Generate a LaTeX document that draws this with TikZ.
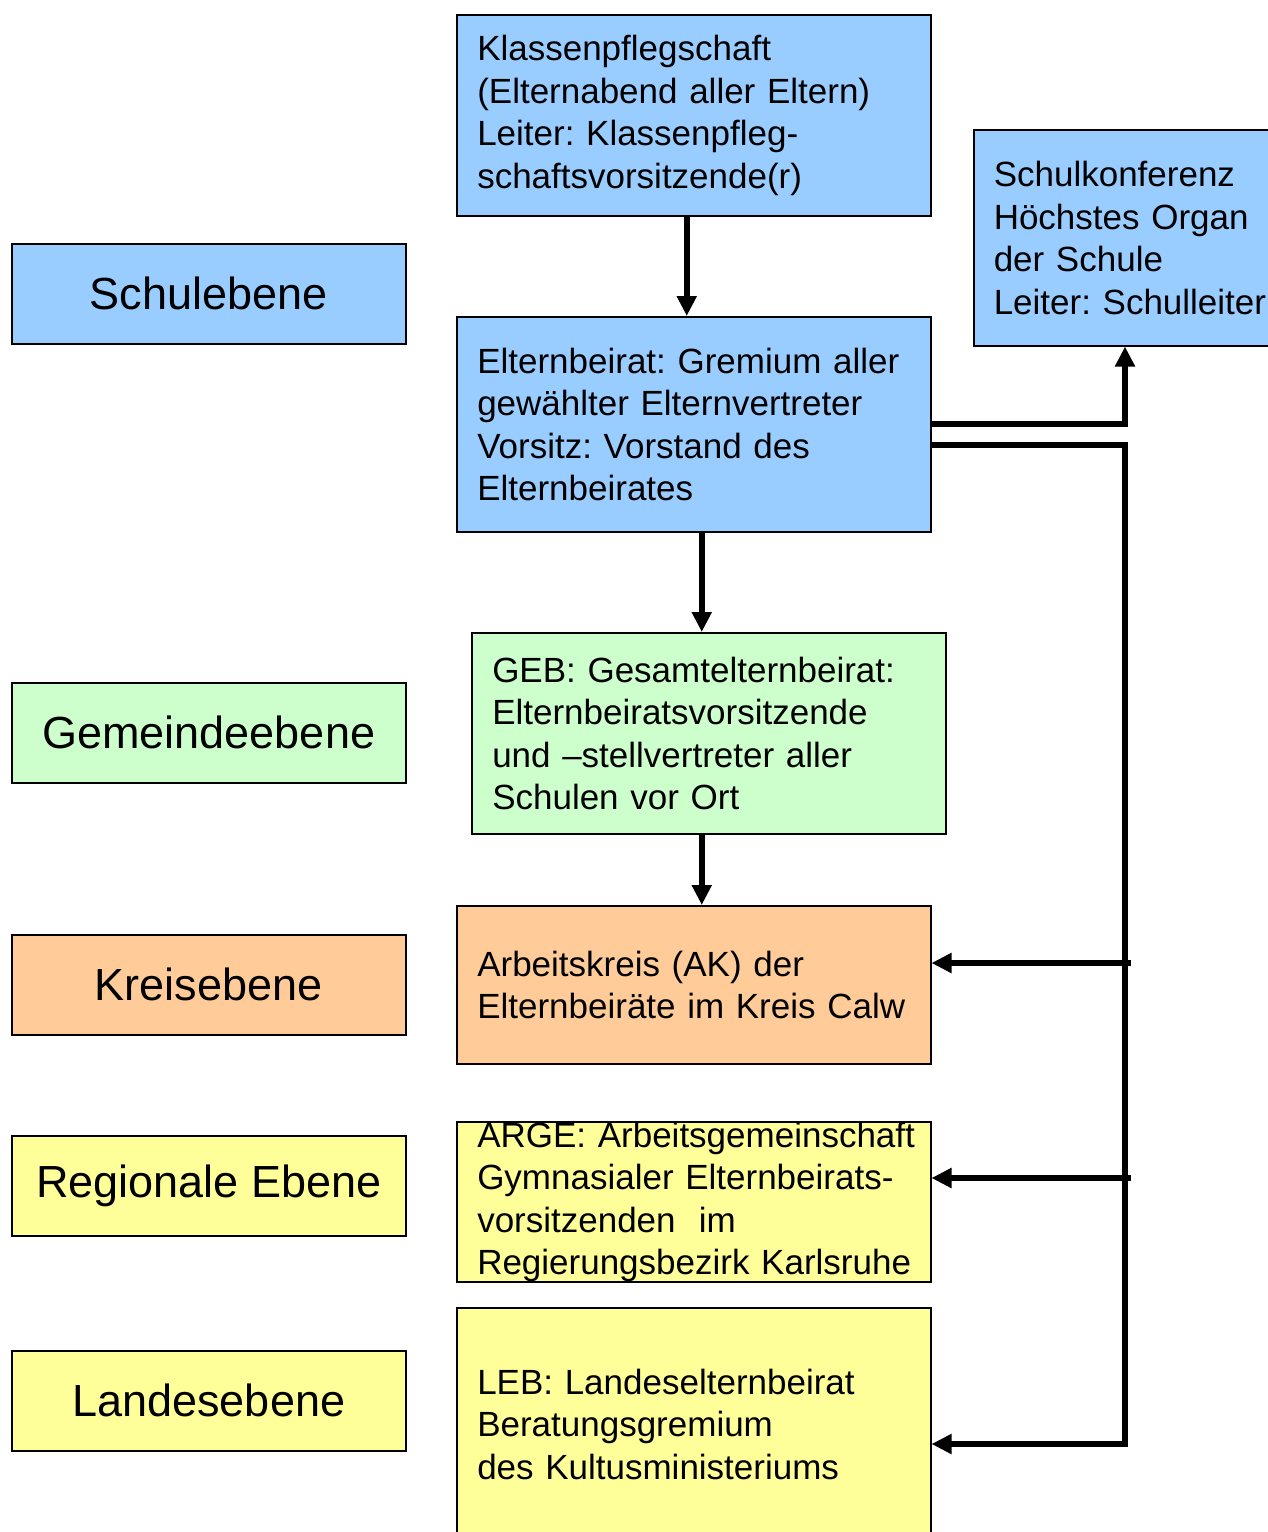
\documentclass[tikz,border=0pt]{standalone}
\usepackage{fontspec}
\setmainfont{Liberation Sans}
\usepackage{tikz}
\usetikzlibrary{arrows.meta}
\usetikzlibrary{calc,positioning}

\definecolor{schulblau}{HTML}{99CCFF}
\definecolor{gemeindegruen}{HTML}{CCFFCC}
\definecolor{kreisorange}{HTML}{FFCC99}
\definecolor{landgelb}{HTML}{FFFF99}
\frenchspacing

\tikzset{
	ebene/.style={draw=black, line width=1.5pt, anchor=north west, inner sep=0pt,
		minimum width=394pt, minimum height=100pt, font=\fontsize{45}{54}\selectfont},
	gremium/.style={draw=black, line width=1.5pt, anchor=north west, inner xsep=20.5pt, inner ysep=0pt,
		text width=433pt, align=left, font=\fontsize{35}{42.5}\selectfont},
	pfeil/.style={line width=6pt, -{Triangle[length=20pt,width=19pt]}},
}

\begin{document}
\begin{tikzpicture}[x=1pt,y=-1pt]
			\useasboundingbox (0,0) rectangle (1268,1532);
			\begin{scope}
				% Ebenen links
				\node[ebene, fill=schulblau] (schule) at (11,243) {Schulebene};
				\node[ebene, fill=gemeindegruen] (gemeinde) at (11,682) {Gemeindeebene};
				\node[ebene, fill=kreisorange] (kreis) at (11,934) {Kreisebene};
				\node[ebene, fill=landgelb] (region) at (11,1135) {Regionale Ebene};
				\node[ebene, fill=landgelb] (land) at (11,1350) {Landesebene};
			\end{scope}
			\begin{scope}
				% Gremien
				\node[gremium, fill=schulblau, minimum height=201pt] (klassen) at (456,14)
					{Klassenpflegschaft\\(Elternabend aller Eltern)\\Leiter: Klassenpfleg-\\schaftsvorsitzende(r)};
				\node[gremium, fill=schulblau, minimum height=216pt, text width=280pt, inner xsep=20pt] (konferenz) at (973,129)
					{Schulkonferenz\\Höchstes Organ\\der Schule\\Leiter: Schulleiter};
				\node[gremium, fill=schulblau, minimum height=215pt] (elternbeirat) at (456,316)
					{Elternbeirat: Gremium aller\\gewählter Elternvertreter\\Vorsitz: Vorstand des\\Elternbeirates};
				\node[gremium, fill=gemeindegruen, minimum height=201pt] (geb) at (471,632)
					{GEB: Gesamtelternbeirat:\\Elternbeiratsvorsitzende\\und –stellvertreter aller\\Schulen vor Ort};
				\node[gremium, fill=kreisorange, minimum height=158pt] (ak) at (456,905)
					{Arbeitskreis (AK) der\\Elternbeiräte im Kreis Calw};
				\node[gremium, fill=landgelb, minimum height=158pt] (arge) at (456,1121)
					{\mbox{ARGE: Arbeitsgemeinschaft}\\Gymnasialer Elternbeirats-\\vorsitzenden\ \ im\\\mbox{Regierungsbezirk Karlsruhe}};
				\node[gremium, fill=landgelb, minimum height=233pt] (leb) at (456,1307)
					{LEB: Landeselternbeirat\\Beratungsgremium\\des Kultusministeriums};
			\end{scope}
			% Verbindungen
			\draw[pfeil] ([xshift=-7pt]klassen.south) -- ([xshift=-7pt]elternbeirat.north);
			\draw[pfeil] ([xshift=8pt]elternbeirat.south) -- ([xshift=-7pt]geb.north);
			\draw[pfeil] ([xshift=-7pt]geb.south) -- ([xshift=8pt]ak.north);
			\coordinate (schiene) at (1125,0);
			\coordinate (busoben) at (1125,445);
			\coordinate (busunten) at (1125,1444);
			\coordinate (astak) at (1131,963);
			\coordinate (astarge) at (1131,1178);
			\draw[pfeil] (elternbeirat.east) -| (konferenz.south -| schiene);
			\draw[pfeil] (busoben -| elternbeirat.east) -- (busoben) -- (busunten) -- (busunten -| leb.east);
			\draw[pfeil] (astak) -- (astak -| ak.east);
			\draw[pfeil] (astarge) -- (astarge -| arge.east);
		\end{tikzpicture}
\end{document}
